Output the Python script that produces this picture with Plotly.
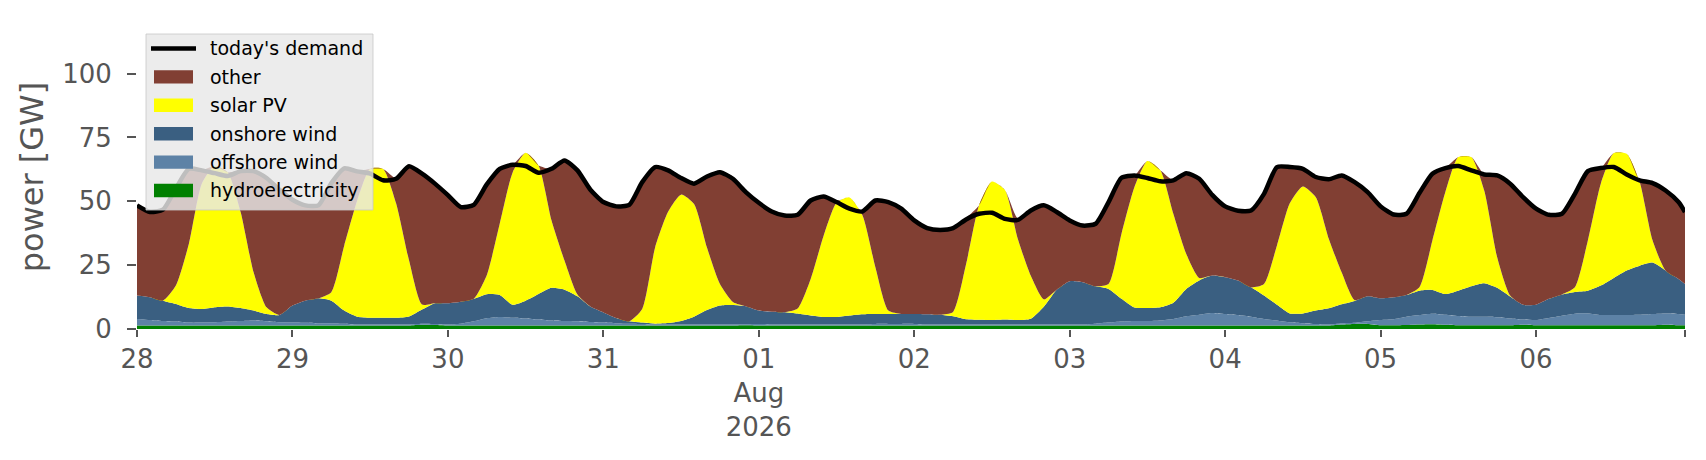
import pandas as pd
import plotly.graph_objects as go

# 2-hourly samples from 2026-07-28 00:00, last one at 2026-08-06 23:00
times = list(pd.date_range("2026-07-28", periods=120, freq="2h")) + [pd.Timestamp("2026-08-06 23:00")]

demand = [
    48.4, 45.8, 46.7, 55, 62.7, 62.1, 61, 59.9, 61.8, 61.8, 59.1, 54.5,
    50.6, 48.4, 48.4, 57.1, 62.9, 61.7, 60.8, 58.2, 58.8, 63.7, 60.8, 56.9,
    52.4, 47.7, 48.6, 56.6, 62.7, 64.3, 63.8, 61.2, 62.7, 66, 62.1, 54.5,
    49.7, 48, 48.6, 57.5, 63.4, 62.1, 59.1, 56.9, 59.7, 61.4, 58.8, 53.6,
    49.4, 46, 44.4, 44.7, 50.3, 51.9, 49.7, 47.1, 46, 50.3, 49.7, 47.1,
    42.5, 39.5, 38.8, 39.5, 42.9, 45.1, 45.5, 43.1, 42.7, 46.4, 48.4, 45.8,
    42.5, 40.5, 41.2, 49.7, 59.2, 60.1, 59.1, 57.8, 58.2, 61, 58.8, 52.5,
    48, 46.3, 46.4, 52.9, 63.4, 63.4, 62.7, 59.5, 58.6, 60.1, 57.5, 53.6,
    48, 44.8, 45.1, 53.2, 60.8, 63, 63.8, 62.1, 60.5, 60.1, 56.9, 51.6,
    47.1, 44.7, 45.1, 52.9, 61.8, 63, 63.4, 60.5, 58.2, 57.1, 54.2, 49.7, 45.8,
]

hydro = [
    1.4, 1.4, 1.4, 1.4, 1.4, 1.4, 1.4, 1.4, 1.4, 1.4, 1.4, 1.4,
    1.4, 1.4, 1.4, 1.4, 1.4, 1.4, 1.4, 1.4, 1.4, 1.4, 1.7, 1.6,
    1.4, 1.4, 1.4, 1.4, 1.4, 1.4, 1.4, 1.4, 1.4, 1.4, 1.4, 1.4,
    1.4, 1.4, 1.4, 1.4, 1.4, 1.4, 1.4, 1.4, 1.4, 1.4, 1.4, 1.5,
    1.4, 1.4, 1.4, 1.4, 1.4, 1.4, 1.4, 1.4, 1.4, 1.4, 1.4, 1.4,
    1.4, 1.4, 1.4, 1.4, 1.4, 1.4, 1.4, 1.4, 1.4, 1.4, 1.4, 1.4,
    1.4, 1.4, 1.4, 1.4, 1.4, 1.4, 1.4, 1.4, 1.4, 1.4, 1.4, 1.4,
    1.4, 1.4, 1.4, 1.4, 1.4, 1.4, 1.4, 1.4, 1.4, 1.8, 2.0, 2.0,
    1.5, 1.5, 1.6, 1.8, 1.9, 1.7, 1.5, 1.5, 1.5, 1.5, 1.5, 1.7,
    1.5, 1.5, 1.5, 1.5, 1.5, 1.5, 1.5, 1.5, 1.5, 1.5, 1.7, 1.5, 1.5,
]

offshore = [
    2.5, 2.1, 1.7, 1.5, 1.1, 1.1, 1.2, 1.5, 1.7, 1.9, 1.6, 1.2,
    1.1, 1.0, 0.8, 0.8, 0.7, 0.4, 0.4, 0.4, 0.4, 0.4, 0.4, 0.4,
    0.4, 0.7, 1.6, 2.8, 3.3, 3.0, 2.7, 2.3, 1.9, 1.7, 1.6, 1.3,
    1.1, 0.8, 0.7, 0.6, 0.4, 0.4, 0.4, 0.4, 0.4, 0.4, 0.4, 0.4,
    0.6, 0.4, 0.4, 0.4, 0.4, 0.4, 0.4, 0.4, 0.4, 0.6, 0.6, 0.6,
    0.6, 0.4, 0.4, 0.4, 0.4, 0.4, 0.4, 0.4, 0.4, 0.4, 0.4, 0.4,
    0.4, 0.4, 0.7, 1.1, 1.5, 1.7, 1.7, 1.9, 2.5, 3.6, 4.2, 4.9,
    4.5, 4.1, 3.4, 2.5, 1.9, 1.2, 0.8, 0.6, 0.4, 0.4, 0.4, 1.0,
    2.0, 2.3, 3.2, 3.7, 4.1, 3.9, 3.6, 3.3, 3.3, 3.1, 2.6, 2.0,
    2.0, 2.8, 3.7, 4.5, 4.6, 4.0, 4.0, 4.0, 4.1, 4.4, 4.4, 4.4, 4.1,
]

onshore = [
    9.2, 8.9, 8.0, 6.9, 5.7, 5.3, 5.9, 5.9, 5.1, 3.9, 2.9, 2.9,
    6.7, 8.7, 9.8, 8.9, 5.1, 3.0, 2.6, 2.6, 2.6, 3.1, 5.5, 8.1,
    8.3, 8.6, 8.8, 9.4, 8.6, 5.1, 7.0, 10.0, 12.8, 12.3, 9.8, 6.1,
    4.0, 2.1, 0.9, 0.5, 0.3, 0.5, 1.3, 3.0, 5.6, 7.4, 7.6, 7.0,
    5.2, 5.0, 4.8, 4.3, 3.5, 2.9, 2.9, 3.5, 4.0, 3.9, 3.9, 3.9,
    3.9, 4.0, 3.8, 3.2, 2.0, 1.8, 1.7, 1.9, 1.7, 2.2, 6.9, 13.6,
    16.9, 16.5, 14.6, 13.2, 8.9, 5.3, 5.1, 5.2, 6.4, 10.7, 13.4, 14.6,
    14.4, 13.5, 11.5, 9.2, 6.2, 3.5, 3.9, 5.2, 6.3, 7.5, 8.6, 9.8,
    8.5, 8.6, 8.5, 9.5, 9.3, 8.1, 9.9, 11.9, 13.1, 11.5, 8.6, 5.8,
    6.0, 7.5, 8.3, 8.5, 8.9, 11.5, 14.5, 17.4, 19.2, 20.1, 16.8, 13.7, 12.0,
]

solar = [
    0, 0, 0, 7.2, 25.1, 49.1, 55.3, 52.6, 37.6, 15.0, 2.6, 0,
    0, 0, 0, 3.3, 25.5, 45.5, 58.3, 58.2, 44.8, 22.0, 2.0, 0,
    0, 0, 0, 7.4, 27.9, 51.8, 57.9, 50.3, 26.4, 11.4, 0.7, 0,
    0, 0, 0, 5.3, 29.9, 43.6, 49.5, 44.1, 24.5, 8.4, 1.2, 0,
    0, 0, 0, 1.9, 14.2, 31.7, 44.7, 46.2, 38.7, 18.3, 1.3, 0,
    0, 0, 0, 1.7, 21.5, 44.7, 54.2, 50.7, 31.7, 16.8, 2.9, 0,
    0, 0, 0, 1.9, 25.5, 47.2, 57.6, 53.6, 34.8, 13.7, 1.0, 0,
    0, 0, 0, 4.5, 23.2, 43.2, 49.7, 44.4, 27.2, 12.4, 0.3, 0,
    0, 0, 0, 1.3, 19.3, 39.9, 52.3, 50.6, 36.3, 12.0, 0.4, 0,
    0, 0, 0, 1.8, 19.6, 39.9, 48.9, 45.7, 32.7, 8.6, 0, 0, 0,
]

other = [
    35.3, 33.4, 35.6, 38, 29.4, 5.2, 0, 0, 16, 39.6, 50.6, 49,
    41.4, 37.3, 36.4, 42.7, 30.2, 11.4, 0, 0, 9.8, 36.9, 51.6, 47.4,
    42.3, 37, 36.8, 35.6, 21.5, 3, 0, 0, 20.2, 39.2, 48.6, 45.7,
    43.2, 43.7, 45.6, 49.7, 31.4, 16.3, 6.7, 8.5, 28.3, 44.4, 49, 45.4,
    42.2, 39.2, 37.9, 36.9, 31.3, 16, 0.7, 0, 1.5, 26.1, 42.5, 41.2,
    36.6, 33.7, 33.3, 33, 18.1, 0, 0, 0, 8.1, 26.1, 37.3, 30.8,
    24.2, 22.3, 24.5, 32.1, 21.9, 4.5, 0, 0, 13.1, 31.6, 38.8, 31.6,
    27.7, 27.3, 30.1, 35.3, 30.7, 14.1, 6.9, 7.9, 23.3, 38.5, 46.4, 40.8,
    36, 32.4, 31.8, 36.9, 26.2, 9.4, 0, 0, 6.3, 32, 43.8, 42.1,
    37.6, 32.9, 31.6, 36.6, 27.2, 6.1, 0, 0, 0.7, 22.5, 31.3, 30.1, 28.2,
]

day_ticks = list(pd.date_range("2026-07-28", periods=10, freq="D"))
day_labels = ["28", "29", "30", "31", "01<br>Aug<br>2026", "02", "03", "04", "05", "06"]

# name, values, colour (stacked bottom to top)
layers = [
    ("hydroelectricity", hydro, "#008000"),
    ("offshore wind", offshore, "#5d82a6"),
    ("onshore wind", onshore, "#3a5f81"),
    ("solar PV", solar, "#ffff00"),
    ("other", other, "#813f33"),
]

fig = go.Figure()
for name, vals, col in layers:
    fig.add_trace(go.Scatter(
        x=times, y=vals, name=name, stackgroup="gen", mode="lines",
        line=dict(width=0, shape="spline", smoothing=0.6), fillcolor=col, showlegend=False,
    ))

fig.add_trace(go.Scatter(
    x=times, y=demand, name="today's demand", mode="lines",
    line=dict(color="black", width=4.5, shape="spline", smoothing=0.6),
    showlegend=False,
))

# plot area in page pixels; the page body shifts the figure a little
OFFX, OFFY = 8, 5
L, R, T, B = 137, 1685, 22, 326
W, H = 1706 - 2 * OFFX, 460 - 2 * OFFY


def px(x):
    return (x - L) / (R - L)


def py(y):
    return (B - y) / (B - T)


# hand-made legend
shapes = [dict(type="rect", xref="paper", yref="paper",
               x0=px(146), x1=px(373), y0=py(207), y1=py(31),
               fillcolor="rgba(232,232,232,0.82)", line=dict(color="rgba(200,200,200,0.8)", width=1),
               layer="above")]
annotations = []
legend_items = [("today's demand", "black")] + [(n, c) for n, v, c in reversed(layers)]
for i, (name, col) in enumerate(legend_items):
    yc = 45.5 + 28.4 * i
    if i == 0:
        shapes.append(dict(type="line", xref="paper", yref="paper",
                           x0=px(151), x1=px(196), y0=py(yc), y1=py(yc),
                           line=dict(color=col, width=4.5), layer="above"))
    else:
        shapes.append(dict(type="rect", xref="paper", yref="paper",
                           x0=px(154), x1=px(193), y0=py(yc + 6.7), y1=py(yc - 6.7),
                           fillcolor=col, line=dict(width=0), layer="above"))
    annotations.append(dict(xref="paper", yref="paper", x=px(208), y=py(yc),
                            xanchor="left", yanchor="middle", showarrow=False,
                            text=name, font=dict(size=19, color="black")))

fig.update_layout(
    width=W, height=H,
    margin=dict(l=L - OFFX, r=W - (R - OFFX), t=T - OFFY, b=H - (B - OFFY)),
    paper_bgcolor="white", plot_bgcolor="white",
    font=dict(family="DejaVu Sans", color="#555555"),
    showlegend=False,
    shapes=shapes, annotations=annotations,
)

fig.update_xaxes(
    type="date", range=["2026-07-28 00:00", "2026-08-06 23:00"],
    tickmode="array", tickvals=day_ticks + [pd.Timestamp("2026-08-06 23:00")],
    ticktext=day_labels + [""],
    showgrid=False, zeroline=False, showline=False,
    ticks="outside", ticklen=7, tickwidth=1.5, tickcolor="#555555",
    tickfont=dict(size=26, color="#555555"),
)
fig.update_yaxes(
    range=[0, 119], tickvals=[0, 25, 50, 75, 100],
    showgrid=False, zeroline=False, showline=False,
    ticks="outside", ticklen=9, tickwidth=1.5, tickcolor="#555555",
    ticklabelstandoff=10,
    tickfont=dict(size=26, color="#555555"),
    title=dict(text="power [GW]", font=dict(size=32, color="#555555"), standoff=8),
)

fig.write_html("out.html")
